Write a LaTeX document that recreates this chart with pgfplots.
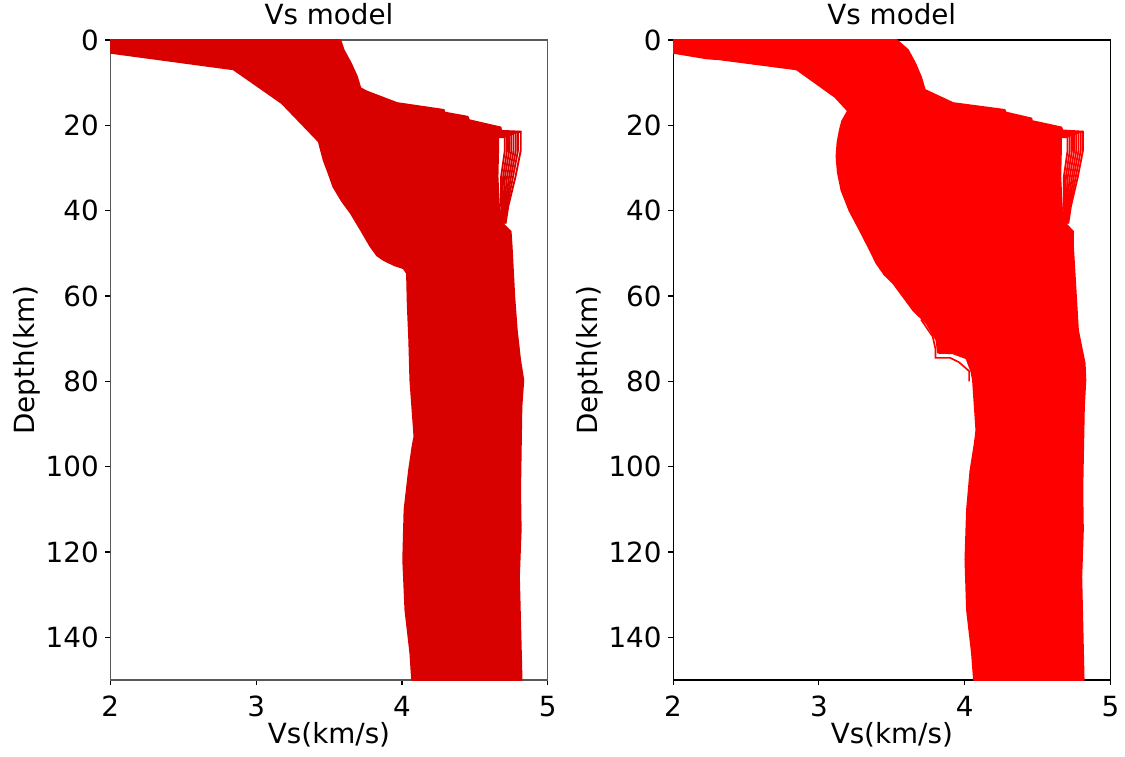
\documentclass[border=0pt]{standalone}
\usepackage{fontspec}
\setmainfont{DejaVu Sans}
\usepackage{pgfplots}
\pgfplotsset{compat=1.18}
\definecolor{redA}{RGB}{217,0,0}
\definecolor{redB}{RGB}{255,0,0}
\pgfplotsset{
  vsaxis/.style={
    scale only axis, width=315pt, height=460.8pt,
    xmin=2, xmax=5, ymin=0, ymax=150, y dir=reverse,
    xtick={2,3,4,5}, ytick={0,20,40,60,80,100,120,140},
    tick align=outside, xtick pos=left, ytick pos=left,
    major tick length=3.5pt,
    every tick/.style={black, line width=0.8pt},
    axis line style={line width=0.8pt},
    /pgf/number format/assume math mode=true,
    ticklabel style={font=\fontsize{20}{24}\selectfont},
    xticklabel style={inner sep=0pt, anchor=north, yshift=-7.7pt},
    yticklabel style={inner sep=0pt, anchor=east, xshift=-4.6pt},
    title={Vs model},
    title style={font=\fontsize{20}{24}\selectfont, inner sep=0pt, anchor=base, at={([yshift=4.8pt]axis description cs:0.5,1)}},
    xlabel={Vs(km/s)},
    xlabel style={font=\fontsize{20}{24}\selectfont, inner sep=0pt, anchor=base, at={([yshift=-45.4pt]axis description cs:0.5,0)}},
    ylabel={Depth(km)},
    ylabel style={font=\fontsize{20}{24}\selectfont, inner sep=0pt, anchor=base, rotate=0, at={([xshift=-54.2pt]axis description cs:0,0.5)}},
    fing/.style={line width=1.3pt},
  }
}
\begin{document}
\begin{tikzpicture}
\path[use as bounding box] (0,0) rectangle (810pt,545.04pt);
% ---------------- left panel
\begin{axis}[vsaxis, at={(79.4pt,55.44pt)}, anchor=south west, axis line style={line width=0.8pt, black!65}]
\addplot[fill=redA, draw=redA, line width=1.4pt, line join=round] coordinates {
(2,0) (3.577,0) (3.60,2.34) (3.65,5.5) (3.69,8.5) (3.715,11.3) (3.76,12.1) (3.967,14.8)
(4.287,16.4) (4.29,17.0) (4.45,18.0) (4.46,18.8) (4.676,20.5) (4.68,21.3) (4.814,21.5)
(4.66,21.9) (4.66,25) (4.655,32) (4.665,39) (4.69,43) (4.745,44.9) (4.752,48.4)
(4.77,60.2) (4.787,68) (4.81,75) (4.832,79.7) (4.819,85.9) (4.81,105.5) (4.814,114.8)
(4.802,125.8) (4.82,150) (4.07,150)
(4.058,143.7) (4.024,133.6) (4.009,121.8) (4.018,110.1) (4.048,101.1) (4.075,94.8)
(4.086,93) (4.058,79.7) (4.05,70) (4.04,62) (4.035,54.7) (4.012,53.5) (3.95,52.8) (3.877,51.6)
(3.83,50.5) (3.785,48.4) (3.72,44.6) (3.65,40.6) (3.59,37.8) (3.53,34.4) (3.50,31.5)
(3.463,28.1) (3.43,23.8) (3.177,14.8) (2.845,6.87)
(2,2.98)} -- cycle;
\addplot[redA, fing] coordinates {(4.60,21.5) (4.814,21.5) (4.814,26) (4.779,32) (4.729,39) (4.711,43)};
\addplot[redA, fing] coordinates {(4.60,21.6) (4.795,21.6) (4.795,26) (4.762,32) (4.721,39) (4.707,43)};
\addplot[redA, fing] coordinates {(4.60,21.8) (4.78,21.8) (4.78,26) (4.748,32) (4.714,39) (4.704,43)};
\addplot[redA, fing] coordinates {(4.60,22.0) (4.765,22.0) (4.765,26) (4.735,32) (4.707,39) (4.701,43)};
\addplot[redA, fing] coordinates {(4.60,22.2) (4.75,22.2) (4.75,26) (4.721,32) (4.70,39) (4.698,43)};
\addplot[redA, fing] coordinates {(4.60,22.4) (4.735,22.4) (4.735,26) (4.707,32) (4.694,39) (4.695,43)};
\addplot[redA, fing] coordinates {(4.60,22.6) (4.72,22.6) (4.72,26) (4.694,32) (4.687,39) (4.692,43)};
\addplot[redA, fing] coordinates {(4.60,22.8) (4.705,22.8) (4.705,26) (4.68,32) (4.68,39) (4.689,43)};
\end{axis}
% ---------------- right panel
\begin{axis}[vsaxis, at={(484.6pt,55.44pt)}, anchor=south west]
\addplot[fill=redB, draw=redB, line width=1.4pt, line join=round] coordinates {
(2,0) (3.532,0) (3.61,2.34) (3.66,5.5) (3.70,8.7) (3.726,11.7) (3.92,14.8) (4.274,16.4) (4.28,17.0) (4.457,18.4)
(4.46,19.0) (4.662,20.5) (4.67,21.2) (4.81,21.5)
(4.66,21.9) (4.66,25) (4.655,32) (4.665,39) (4.69,43) (4.742,44.9) (4.742,48.4)
(4.776,68) (4.822,75.8) (4.827,79.7) (4.817,85.9) (4.806,105.5) (4.81,114.8)
(4.799,125.8) (4.815,150) (4.064,150)
(4.05,143.7) (4.016,133.6) (4.005,121.8) (4.016,110.1) (4.039,101.1) (4.068,94.8)
(4.075,93) (4.08,91.4) (4.057,79.7) (4.046,77.7) (4.012,74.6) (3.918,73.4) (3.817,73.3)
(3.806,70.3) (3.738,66.4) (3.646,63.3) (3.51,57) (3.45,55) (3.395,52.3) (3.34,48.5) (3.28,44.5)
(3.21,40) (3.155,35.2) (3.13,31) (3.121,27.3) (3.128,24) (3.144,21.1) (3.16,19) (3.20,16.6)
(3.11,13.3) (2.847,6.87) (2.32,4.52) (2.23,4.29)
(2,2.98)} -- cycle;
\addplot[redB, fing] coordinates {(4.60,21.5) (4.81,21.5) (4.81,26) (4.776,32) (4.728,39) (4.71,43)};
\addplot[redB, fing] coordinates {(4.60,21.6) (4.795,21.6) (4.795,26) (4.762,32) (4.721,39) (4.707,43)};
\addplot[redB, fing] coordinates {(4.60,21.8) (4.78,21.8) (4.78,26) (4.748,32) (4.714,39) (4.704,43)};
\addplot[redB, fing] coordinates {(4.60,22.0) (4.765,22.0) (4.765,26) (4.735,32) (4.707,39) (4.701,43)};
\addplot[redB, fing] coordinates {(4.60,22.2) (4.75,22.2) (4.75,26) (4.721,32) (4.70,39) (4.698,43)};
\addplot[redB, fing] coordinates {(4.60,22.4) (4.735,22.4) (4.735,26) (4.707,32) (4.694,39) (4.695,43)};
\addplot[redB, fing] coordinates {(4.60,22.6) (4.72,22.6) (4.72,26) (4.694,32) (4.687,39) (4.692,43)};
\addplot[redB, fing] coordinates {(4.60,22.8) (4.705,22.8) (4.705,26) (4.68,32) (4.68,39) (4.689,43)};
\addplot[redB, line width=1.2pt] coordinates {(3.70,65.5) (3.78,69.5) (3.80,72.5) (3.80,74.5) (3.90,74.5) (3.96,75.5) (4.03,77.6) (4.03,80)};
\end{axis}
\end{tikzpicture}
\end{document}
